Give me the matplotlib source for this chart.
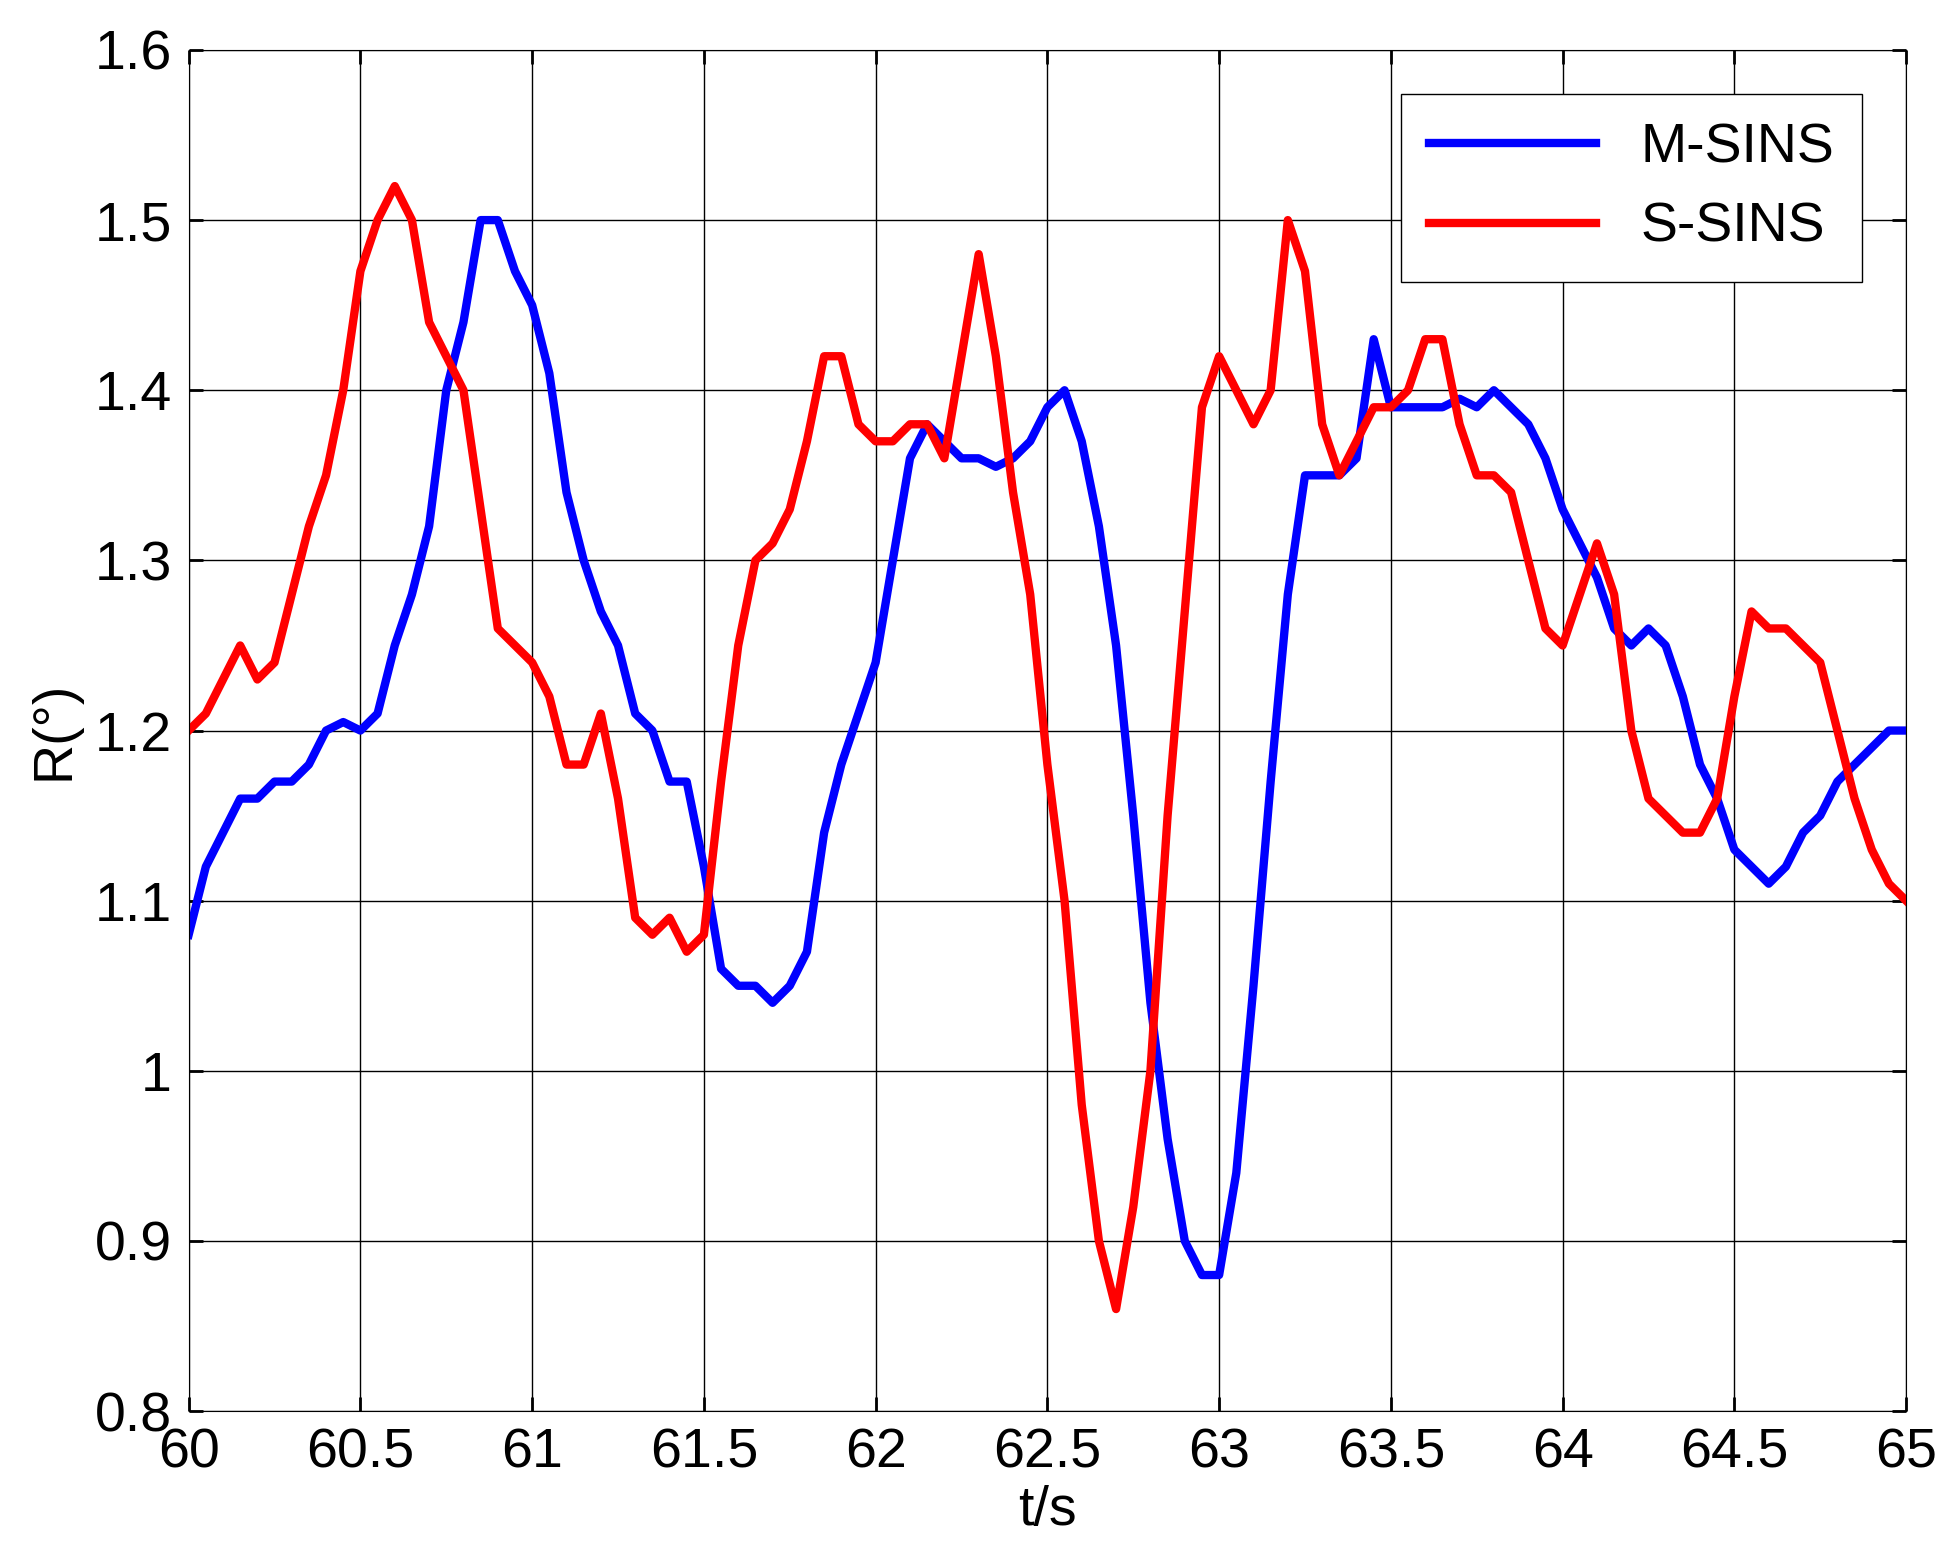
import numpy as np
import matplotlib.pyplot as plt

t = np.round(np.arange(60.0, 65.0001, 0.05), 2)

m_sins = [1.08, 1.12, 1.14, 1.16, 1.16, 1.17, 1.17, 1.18, 1.20, 1.205,
          1.20, 1.21, 1.25, 1.28, 1.32, 1.40, 1.44, 1.50, 1.50, 1.47,
          1.45, 1.41, 1.34, 1.30, 1.27, 1.25, 1.21, 1.20, 1.17, 1.17,
          1.12, 1.06, 1.05, 1.05, 1.04, 1.05, 1.07, 1.14, 1.18, 1.21,
          1.24, 1.30, 1.36, 1.38, 1.37, 1.36, 1.36, 1.355, 1.36, 1.37,
          1.39, 1.40, 1.37, 1.32, 1.25, 1.15, 1.04, 0.96, 0.90, 0.88,
          0.88, 0.94, 1.05, 1.17, 1.28, 1.35, 1.35, 1.35, 1.36, 1.43,
          1.39, 1.39, 1.39, 1.39, 1.395, 1.39, 1.40, 1.39, 1.38, 1.36,
          1.33, 1.31, 1.29, 1.26, 1.25, 1.26, 1.25, 1.22, 1.18, 1.16,
          1.13, 1.12, 1.11, 1.12, 1.14, 1.15, 1.17, 1.18, 1.19, 1.20, 1.20]

s_sins = [1.20, 1.21, 1.23, 1.25, 1.23, 1.24, 1.28, 1.32, 1.35, 1.40,
          1.47, 1.50, 1.52, 1.50, 1.44, 1.42, 1.40, 1.33, 1.26, 1.25,
          1.24, 1.22, 1.18, 1.18, 1.21, 1.16, 1.09, 1.08, 1.09, 1.07,
          1.08, 1.17, 1.25, 1.30, 1.31, 1.33, 1.37, 1.42, 1.42, 1.38,
          1.37, 1.37, 1.38, 1.38, 1.36, 1.42, 1.48, 1.42, 1.34, 1.28,
          1.18, 1.10, 0.98, 0.90, 0.86, 0.92, 1.00, 1.15, 1.27, 1.39,
          1.42, 1.40, 1.38, 1.40, 1.50, 1.47, 1.38, 1.35, 1.37, 1.39,
          1.39, 1.40, 1.43, 1.43, 1.38, 1.35, 1.35, 1.34, 1.30, 1.26,
          1.25, 1.28, 1.31, 1.28, 1.20, 1.16, 1.15, 1.14, 1.14, 1.16,
          1.22, 1.27, 1.26, 1.26, 1.25, 1.24, 1.20, 1.16, 1.13, 1.11, 1.10]

plt.rcParams['font.family'] = ['Liberation Sans', 'DejaVu Sans']
fig = plt.figure(figsize=(19.45, 15.61), dpi=100)
ax = fig.add_axes([0.097, 0.096, 0.883, 0.872])
ax.plot(t, m_sins, color='#0000ff', lw=6, label='M-SINS')
ax.plot(t, s_sins, color='#ff0000', lw=6, label='S-SINS')
ax.set_xlim(60, 65)
ax.set_ylim(0.8, 1.6)
ax.set_xticks(np.arange(60, 65.01, 0.5))
ax.set_xticklabels(['60', '60.5', '61', '61.5', '62', '62.5', '63', '63.5', '64', '64.5', '65'])
ax.set_yticks(np.arange(0.8, 1.601, 0.1))
ax.set_yticklabels(['0.8', '0.9', '1', '1.1', '1.2', '1.3', '1.4', '1.5', '1.6'])
ax.grid(True, color='black', lw=1)
ax.tick_params(direction='in', top=True, right=True, labelsize=40, length=10, width=2, pad=12)
ax.set_xlabel('t/s', fontsize=40, labelpad=4)
ax.set_ylabel('R(°)', fontsize=40, labelpad=10)
leg = ax.legend(loc='upper right', fontsize=40, fancybox=False, edgecolor='black',
                handlelength=3, borderpad=0.5, framealpha=1, borderaxespad=0.8)
leg.get_frame().set_linewidth(1)
fig.savefig('out.png', dpi=100)
